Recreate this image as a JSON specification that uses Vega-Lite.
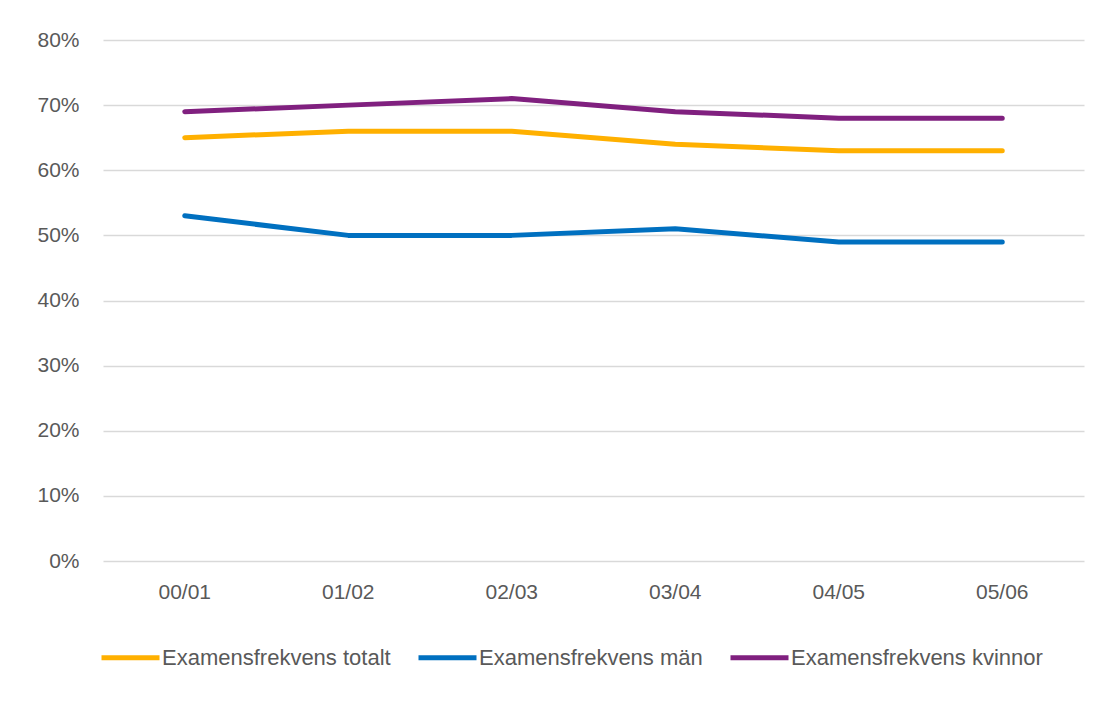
{
  "$schema": "https://vega.github.io/schema/vega-lite/v6.json",
  "width": 981,
  "height": 521,
  "autosize": {"type": "none"},
  "padding": {"left": 103, "top": 40, "right": 29, "bottom": 151},
  "background": "white",
  "config": {
    "view": {"stroke": null},
    "font": "Liberation Sans"
  },
  "data": {
    "values": [
      {"year": "00/01", "series": "Examensfrekvens totalt", "value": 0.65},
      {"year": "01/02", "series": "Examensfrekvens totalt", "value": 0.66},
      {"year": "02/03", "series": "Examensfrekvens totalt", "value": 0.66},
      {"year": "03/04", "series": "Examensfrekvens totalt", "value": 0.64},
      {"year": "04/05", "series": "Examensfrekvens totalt", "value": 0.63},
      {"year": "05/06", "series": "Examensfrekvens totalt", "value": 0.63},
      {"year": "00/01", "series": "Examensfrekvens män", "value": 0.53},
      {"year": "01/02", "series": "Examensfrekvens män", "value": 0.50},
      {"year": "02/03", "series": "Examensfrekvens män", "value": 0.50},
      {"year": "03/04", "series": "Examensfrekvens män", "value": 0.51},
      {"year": "04/05", "series": "Examensfrekvens män", "value": 0.49},
      {"year": "05/06", "series": "Examensfrekvens män", "value": 0.49},
      {"year": "00/01", "series": "Examensfrekvens kvinnor", "value": 0.69},
      {"year": "01/02", "series": "Examensfrekvens kvinnor", "value": 0.70},
      {"year": "02/03", "series": "Examensfrekvens kvinnor", "value": 0.71},
      {"year": "03/04", "series": "Examensfrekvens kvinnor", "value": 0.69},
      {"year": "04/05", "series": "Examensfrekvens kvinnor", "value": 0.68},
      {"year": "05/06", "series": "Examensfrekvens kvinnor", "value": 0.68}
    ]
  },
  "mark": {"type": "line", "strokeWidth": 5, "strokeCap": "round", "strokeJoin": "round"},
  "encoding": {
    "x": {
      "field": "year",
      "type": "ordinal",
      "scale": {"type": "band", "paddingInner": 0, "paddingOuter": 0},
      "axis": {
        "title": null,
        "labelAngle": 0,
        "labelFontSize": 21,
        "labelColor": "#595959",
        "labelPadding": 20,
        "ticks": false,
        "domain": false,
        "grid": false
      }
    },
    "y": {
      "field": "value",
      "type": "quantitative",
      "scale": {"domain": [0, 0.8], "nice": false},
      "axis": {
        "title": null,
        "format": ".0%",
        "values": [0, 0.1, 0.2, 0.3, 0.4, 0.5, 0.6, 0.7, 0.8],
        "labelFontSize": 21,
        "labelColor": "#595959",
        "labelPadding": 24,
        "ticks": false,
        "domain": false,
        "grid": true,
        "gridColor": "#D9D9D9",
        "gridWidth": 1.3
      }
    },
    "color": {
      "field": "series",
      "type": "nominal",
      "sort": ["Examensfrekvens totalt", "Examensfrekvens män", "Examensfrekvens kvinnor"],
      "scale": {
        "domain": ["Examensfrekvens totalt", "Examensfrekvens män", "Examensfrekvens kvinnor"],
        "range": ["#FFB000", "#0070C0", "#80207F"]
      },
      "legend": {
        "title": null,
        "orient": "none",
        "direction": "horizontal",
        "legendX": -4,
        "legendY": 586,
        "symbolType": "stroke",
        "symbolSize": 3364,
        "symbolStrokeWidth": 5,
        "labelFontSize": 22,
        "labelColor": "#595959",
        "labelOffset": 0,
        "columnPadding": 17,
        "labelLimit": 400
      }
    }
  }
}
